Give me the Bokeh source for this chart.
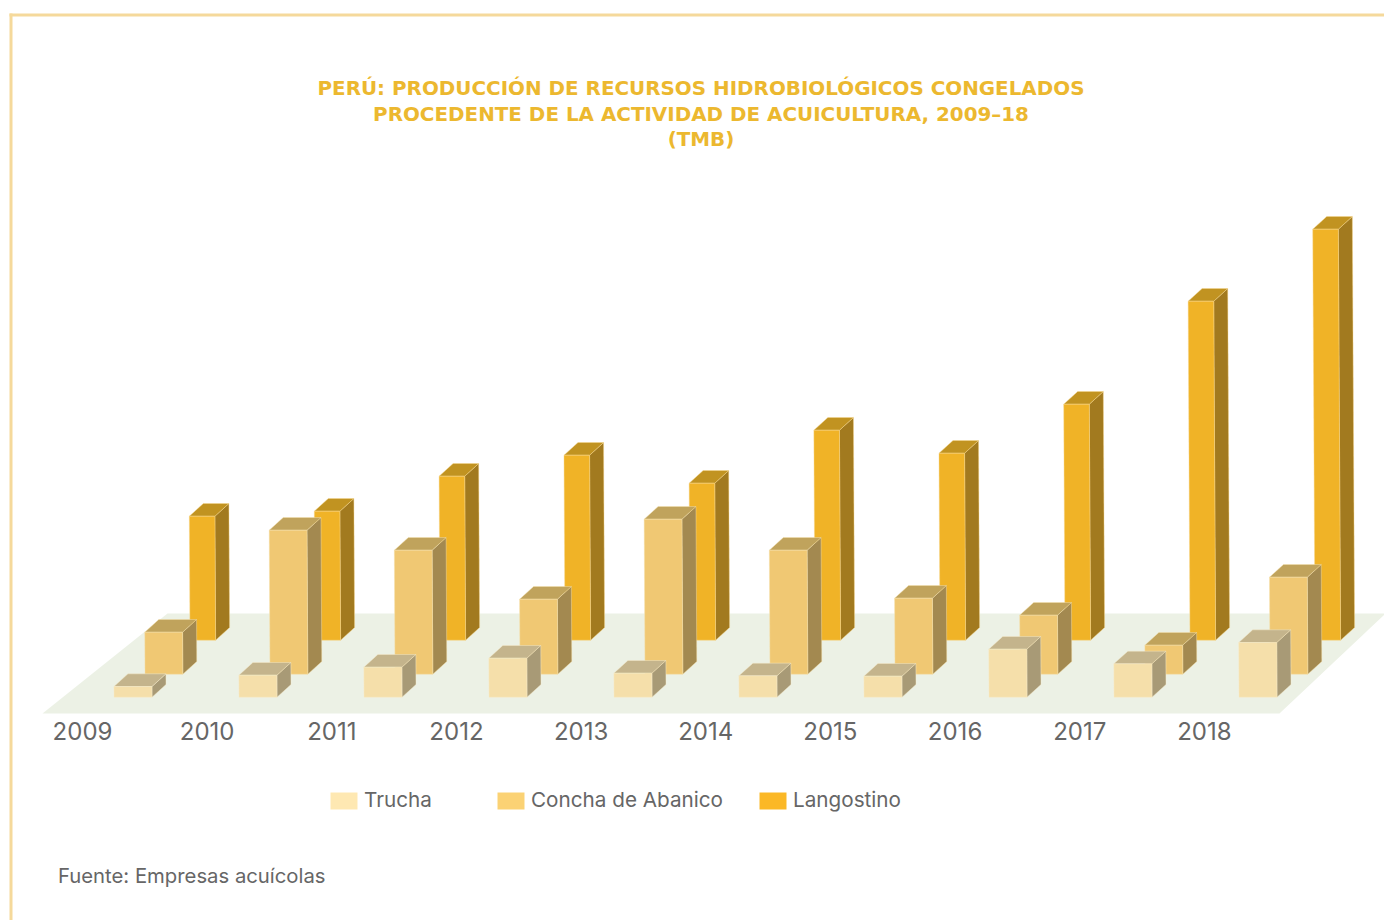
from bokeh.plotting import figure
from bokeh.embed import file_html
from bokeh.resources import INLINE
from bokeh.models import Range1d
from bokeh.core.properties import value

# --- data (TMB) ---
years = ["2009", "2010", "2011", "2012", "2013", "2014", "2015", "2016", "2017", "2018"]
trucha = [800, 1650, 2250, 2925, 1800, 1600, 1575, 3600, 2500, 4100]
concha = [3150, 10800, 9300, 5625, 11625, 9300, 5700, 4425, 2175, 7275]
langostino = [9300, 9675, 12300, 13875, 11775, 15750, 14025, 17700, 25425, 30825]
title_lines = ["PERÚ: PRODUCCIÓN DE RECURSOS HIDROBIOLÓGICOS CONGELADOS",
               "PROCEDENTE DE LA ACTIVIDAD DE ACUICULTURA, 2009–18",
               "(TMB)"]
source_note = "Fuente: Empresas acuícolas"

# --- scales: x in years (index), y in TMB ---
PX_PER_YEAR = 125.0
TMB_PER_PX = 75.0
X0, Y0 = 113.5, 696.7    # page pixel of year-index 0 / value 0 on the front row


def dx(px):
    return (px - X0) / PX_PER_YEAR


def dy(py):
    return (Y0 - py) * TMB_PER_PX


W, H = 1376, 912
p = figure(width=W, height=H, output_backend="svg", toolbar_location=None,
           x_range=Range1d(dx(8), dx(8 + W)), y_range=Range1d(dy(8 + H), dy(8)),
           x_axis_location=None, y_axis_location=None, min_border=0,
           background_fill_color="white", border_fill_color="white",
           outline_line_color=None)
p.margin = (8, 0, 0, 8)
p.grid.visible = False

# frame
FRAME = "#f5d99b"
p.quad(left=dx(9), right=dx(1384), top=dy(13), bottom=dy(16), fill_color=FRAME, line_color=None)
p.quad(left=dx(9), right=dx(12), top=dy(13), bottom=dy(920), fill_color=FRAME, line_color=None)

# floor
p.patch([dx(42), dx(1279), dx(1384), dx(1384), dx(167)],
        [dy(713), dy(713), dy(614), dy(613), dy(613)],
        fill_color="#ecf1e5", line_color=None)

# depth of one bar in scale units
DEPTH_X = 14 / PX_PER_YEAR
DEPTH_Y = 12.7 * TMB_PER_PX
TILT = 0.0055 / PX_PER_YEAR / TMB_PER_PX  # horizontal lean per TMB


def draw_series(values, x_off, y_off, width, front, side, top, edge):
    fx, fy, sx, sy, tx, ty = [], [], [], [], [], []
    for i, v in enumerate(values):
        l = i + x_off
        r = l + width
        b = y_off
        t = y_off + v
        lean = v * TILT
        fx.append([l, r, r - lean, l - lean])
        fy.append([b, b, t, t])
        sx.append([r, r + DEPTH_X, r + DEPTH_X - lean, r - lean])
        sy.append([b, b + DEPTH_Y, t + DEPTH_Y, t])
        tx.append([l - lean, r - lean, r + DEPTH_X - lean, l + DEPTH_X - lean])
        ty.append([t, t, t + DEPTH_Y, t + DEPTH_Y])
    for xs, ys, c in ((sx, sy, side), (tx, ty, top), (fx, fy, front)):
        p.patches(xs, ys, fill_color=c, line_color=edge, line_width=0.8, line_alpha=0.55)


# back to front
draw_series(langostino, 76 / PX_PER_YEAR, 57 * TMB_PER_PX, 25.6 / PX_PER_YEAR,
            "#f0b327", "#a27a1f", "#c19321", "#f7d98f")
draw_series(concha, 31 / PX_PER_YEAR, 23 * TMB_PER_PX, 37.8 / PX_PER_YEAR,
            "#f0c873", "#a38950", "#c0a35c", "#f5e0ad")
draw_series(trucha, 0, 0, 38 / PX_PER_YEAR,
            "#f5dfaa", "#a89a76", "#c4b48c", "#f8eccb")

GREY = "#666666"
SANS = value("Inter")

# year labels
LABEL_STEP = 124.65
p.text(x=[dx(82 + i * LABEL_STEP) for i in range(len(years))], y=[dy(730.7)] * len(years), text=years,
       text_font=SANS, text_font_size="24px", text_color=GREY,
       text_align="center", text_baseline="middle")

# title
p.text(x=[dx(700.5)] * 3, y=[dy(87.5), dy(113.5), dy(138.5)], text=title_lines,
       text_font=value("DejaVu Sans"), text_font_size="19.9px", text_font_style="bold",
       text_color="#ecb82f", text_align="center", text_baseline="middle")

# legend
leg_names = ["Trucha", "Concha de Abanico", "Langostino"]
leg_left = [330, 497, 759]
leg_col = ["#fee8b2", "#fbd274", "#fbb826"]
for n, l, c in zip(leg_names, leg_left, leg_col):
    p.quad(left=dx(l), right=dx(l + 27), top=dy(792), bottom=dy(809), fill_color=c, line_color=None)
    p.text(x=[dx(l + 33.5)], y=[dy(798.7)], text=[n], text_font=SANS, text_font_size="20.7px",
           text_color=GREY, text_align="left", text_baseline="middle")

# source
p.text(x=[dx(57.5)], y=[dy(874.5)], text=[source_note], text_font=SANS, text_font_size="20.3px",
       text_color=GREY, text_align="left", text_baseline="middle")

open("out.html", "w").write(file_html(p, INLINE))
